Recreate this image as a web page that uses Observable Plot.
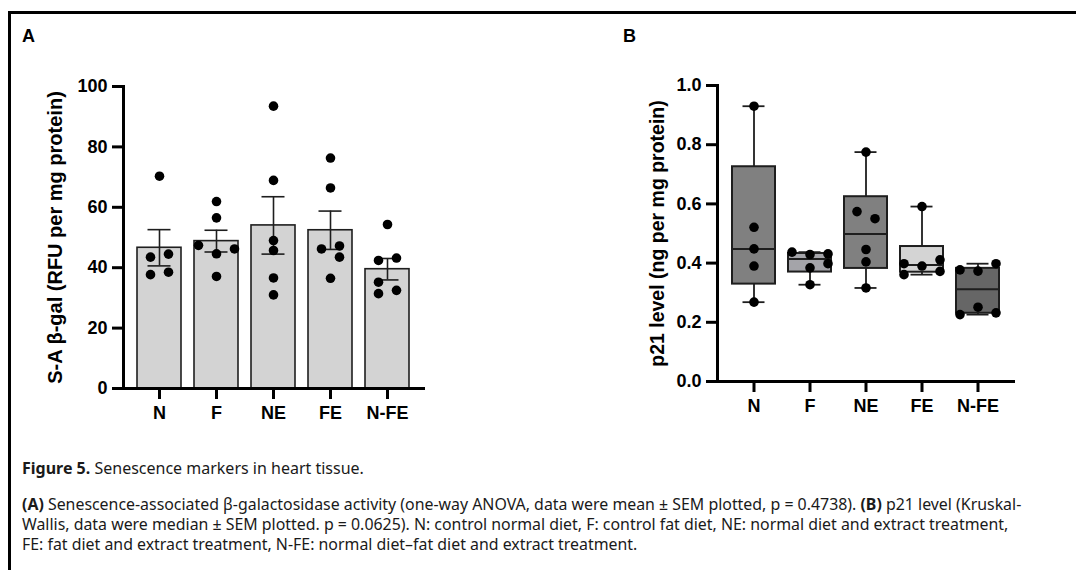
<!DOCTYPE html>
<html><head><meta charset="utf-8">
<script src="https://cdn.jsdelivr.net/npm/d3@7"></script>
<script src="https://cdn.jsdelivr.net/npm/@observablehq/plot@0.6"></script>
<style>
html,body{margin:0;padding:0;background:#fff;}
#page{position:relative;width:1076px;height:570px;overflow:hidden;background:#fff;}
#frame{position:absolute;left:8px;top:11px;right:-10px;bottom:-10px;border-top:3px solid #000;border-left:3px solid #000;}
.panel{position:absolute;font-family:"Liberation Sans",Arial,sans-serif;font-weight:bold;font-size:18px;color:#000;line-height:18px;}
#chartA{position:absolute;left:0;top:40px;}
#chartB{position:absolute;left:540px;top:40px;}
.cap{position:absolute;left:22px;font-family:"Noto Sans",sans-serif;color:#1a1a1a;white-space:nowrap;line-height:20px;}
.cap b{font-weight:bold;}
</style></head><body>
<div id="page">
 <div id="frame"></div>
 <div class="panel" style="left:22px;top:27px">A</div>
 <div class="panel" style="left:623px;top:27px">B</div>
 <div id="chartA"></div>
 <div id="chartB"></div>
 <div class="cap" style="top:458px;font-size:16px"><b>Figure 5.</b> Senescence markers in heart tissue.</div>
 <div class="cap" style="top:494px;font-size:15.9px"><b>(A)</b> Senescence-associated β-galactosidase activity (one-way ANOVA, data were mean ± SEM plotted, p = 0.4738). <b>(B)</b> p21 level (Kruskal-</div>
 <div class="cap" style="top:514px;font-size:15.9px">Wallis, data were median ± SEM plotted. p = 0.0625). N: control normal diet, F: control fat diet, NE: normal diet and extract treatment,</div>
 <div class="cap" style="top:534px;font-size:15.9px">FE: fat diet and extract treatment, N-FE: normal diet–fat diet and extract treatment.</div>
</div>
<script>
// ---- data ----
const groups = ["N", "F", "NE", "FE", "N-FE"];

// Panel A: S-A β-gal (mean ± SEM) and individual values
const betaGalMean = [46.6, 48.8, 54.0, 52.4, 39.5];
const betaGalSem  = [6.0, 3.6, 9.5, 6.35, 3.55];
const betaGalPoints = [
  [70.3, 43.5, 44.5, 37.7, 38.5],
  [61.9, 56.5, 47.4, 46.2, 44.6, 37.1],
  [93.5, 68.9, 49.0, 45.7, 36.6, 31.0],
  [76.3, 66.4, 46.2, 47.2, 43.5, 36.5],
  [54.3, 42.4, 43.2, 35.2, 32.5, 31.4]
];
// scatter column of each point (GraphPad-style arrangement)
const betaGalCols = [
  [0, -1, 1, -1, 1],
  [0, 0, -2, 2, 0, 0],
  [0, 0, 0, 0, 0, 0],
  [0, 0, -1, 1, 1, 0],
  [0, -1, 1, -1, 1, -1]
];

// Panel B: p21 level individual values
const p21Points = [
  [0.930, 0.521, 0.448, 0.390, 0.268],
  [0.437, 0.429, 0.431, 0.398, 0.384, 0.327],
  [0.775, 0.574, 0.550, 0.446, 0.404, 0.316],
  [0.591, 0.398, 0.390, 0.411, 0.361, 0.372],
  [0.377, 0.373, 0.398, 0.251, 0.226, 0.232]
];
const p21Cols = [
  [0, 0, 0, 0, 0],
  [-2, 0, 2, 2, 0, 0],
  [0, -1, 1, 0, 0, 0],
  [0, -2, 0, 2, -2, 2],
  [-2, 0, 2, 0, -2, 2]
];
const boxColors = ["#808080", "#a4a4a9", "#808080", "#d4d4d4", "#666666"];

const yTicksA = [0, 20, 40, 60, 80, 100];
const yTicksB = [0, 0.2, 0.4, 0.6, 0.8, 1.0];

// ---- helpers ----
const COL = 9; // px per scatter column
const INK = "#1e1e1e";
const FONT = "'Liberation Sans', Arial, sans-serif";
function quant(sorted, p) { // (n+1)p method
  const h = (sorted.length + 1) * p, lo = Math.floor(h), f = h - lo;
  const a = sorted[Math.max(0, lo - 1)], b = sorted[Math.min(sorted.length - 1, lo)];
  return a + f * (b - a);
}
const baseStyle = {fontFamily: FONT, fontSize: "18px", fontWeight: "bold", color: "#000", background: "transparent", overflow: "visible"};

function dotMarks(pts) {
  return [-2, -1, 0, 1, 2].map(c => Plot.dot(pts.filter(d => d.col === c), {x: "group", y: "value", r: 4.8, fill: "#000", stroke: "none", dx: c * COL}));
}
function axes(ticks, fmt, label, ldx, lsize) {
  return [
    Plot.axisY({ticks, tickFormat: fmt, tickSize: 11, tickPadding: 5, strokeWidth: 3, stroke: "#000", label: null}),
    Plot.axisX({tickSize: 11, tickPadding: 7, strokeWidth: 3, stroke: "#000", label: null}),
    Plot.frame({anchor: "left", strokeWidth: 3, stroke: "#000", strokeLinecap: "square"}),
    Plot.frame({anchor: "bottom", strokeWidth: 3, stroke: "#000", strokeLinecap: "square"}),
    Plot.text([label], {frameAnchor: "left", rotate: -90, dx: ldx, fontSize: lsize, fontWeight: "bold", fontFamily: FONT, textAnchor: "middle", fill: "#000"})
  ];
}

// ---- Panel A ----
const rowsA = groups.map((g, i) => ({group: g, mean: betaGalMean[i], sem: betaGalSem[i]}));
const ptsA = groups.flatMap((g, i) => betaGalPoints[i].map((v, j) => ({group: g, value: v, col: betaGalCols[i][j]})));
const chartA = Plot.plot({
  width: 460, height: 400,
  marginLeft: 123, marginRight: 37, marginTop: 46, marginBottom: 52,
  style: baseStyle,
  x: {domain: groups, paddingInner: 0.23, paddingOuter: 0.24, label: null},
  y: {domain: [0, 100], label: null},
  marks: [
    Plot.barY(rowsA, {x: "group", y: "mean", fill: "#d3d3d3", stroke: INK, strokeWidth: 1.6}),
    Plot.ruleX(rowsA, {x: "group", y1: d => d.mean - d.sem, y2: d => d.mean + d.sem, stroke: INK, strokeWidth: 1.6}),
    Plot.tickY(rowsA, {x: "group", y: d => d.mean + d.sem, insetLeft: 10.5, insetRight: 10.5, stroke: INK, strokeWidth: 1.6}),
    Plot.tickY(rowsA, {x: "group", y: d => d.mean - d.sem, insetLeft: 10.5, insetRight: 10.5, stroke: INK, strokeWidth: 1.6}),
    ...dotMarks(ptsA),
    ...axes(yTicksA, d => d, "S-A β-gal (RFU per mg protein)", -68, 20)
  ]
});
document.getElementById("chartA").append(chartA);

// ---- Panel B ----
const rowsB = groups.map((g, i) => {
  const s = p21Points[i].slice().sort(d3.ascending);
  return {group: g, min: s[0], max: s[s.length - 1], q1: quant(s, 0.25), median: quant(s, 0.5), q3: quant(s, 0.75)};
});
const ptsB = groups.flatMap((g, i) => p21Points[i].map((v, j) => ({group: g, value: v, col: p21Cols[i][j]})));
const chartB = Plot.plot({
  width: 520, height: 400,
  marginLeft: 177, marginRight: 47, marginTop: 45, marginBottom: 59,
  style: baseStyle,
  x: {domain: groups, paddingInner: 0.236, paddingOuter: 0.247, label: null},
  y: {domain: [0, 1], label: null},
  color: {domain: groups, range: boxColors},
  marks: [
    Plot.ruleX(rowsB, {x: "group", y1: "min", y2: "q1", stroke: INK, strokeWidth: 1.8}),
    Plot.ruleX(rowsB, {x: "group", y1: "q3", y2: "max", stroke: INK, strokeWidth: 1.8}),
    Plot.tickY(rowsB, {x: "group", y: "min", insetLeft: 10.5, insetRight: 10.5, stroke: INK, strokeWidth: 1.8}),
    Plot.tickY(rowsB, {x: "group", y: "max", insetLeft: 10.5, insetRight: 10.5, stroke: INK, strokeWidth: 1.8}),
    Plot.barY(rowsB, {x: "group", y1: "q1", y2: "q3", fill: "group", stroke: INK, strokeWidth: 2}),
    Plot.tickY(rowsB, {x: "group", y: "median", stroke: INK, strokeWidth: 2}),
    ...dotMarks(ptsB),
    ...axes(yTicksB, d3.format(".1f"), "p21 level (ng per mg protein)", -60, 19.5)
  ]
});
document.getElementById("chartB").append(chartB);
</script>
</body></html>
